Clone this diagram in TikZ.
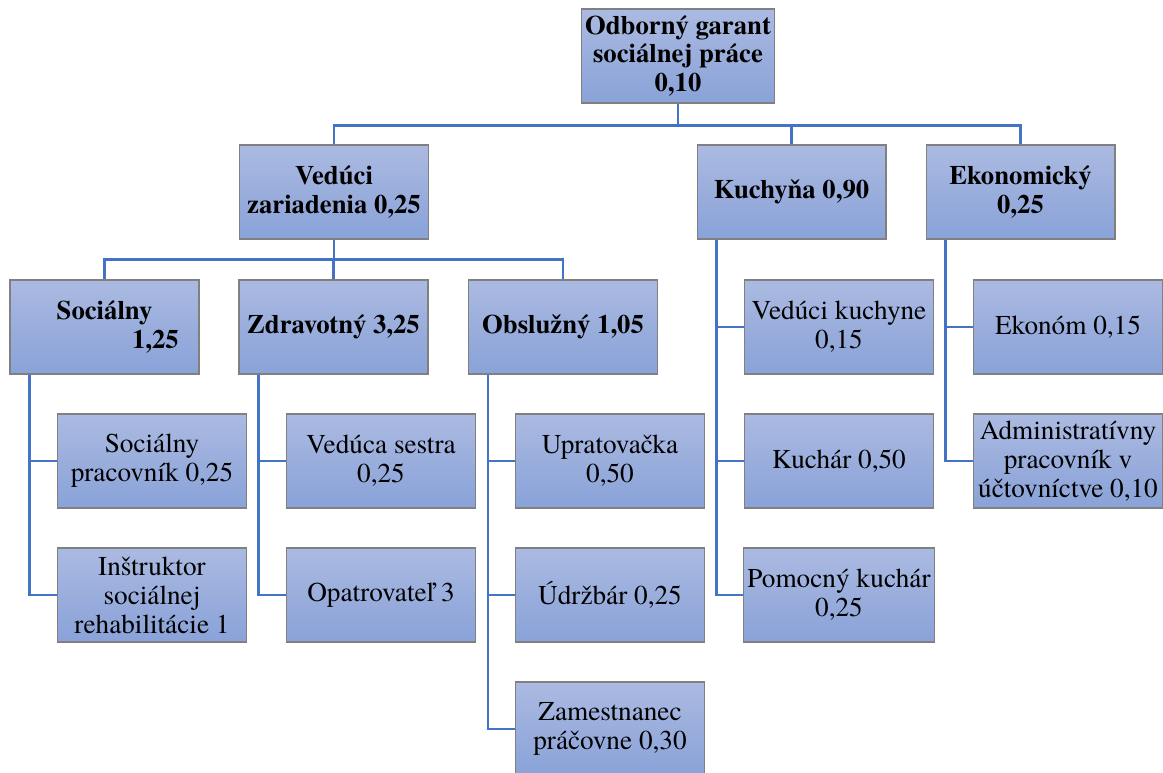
\documentclass[tikz,border=0pt]{standalone}
\usepackage{fontspec}
\setmainfont{texgyretermes}[Extension=.otf, UprightFont=*-regular, BoldFont=*-bold]
\usepackage{tikz}

\definecolor{boxtop}{RGB}{171,186,225}
\definecolor{boxbot}{RGB}{137,162,216}
\definecolor{boxline}{RGB}{128,128,128}
\definecolor{linkblue}{RGB}{68,114,196}

\tikzset{
  unit/.style={draw=boxline, line width=0.6pt, top color=boxtop, bottom color=boxbot,
    minimum width=3.78cm, minimum height=1.88cm, inner sep=2pt, align=center,
    font=\fontsize{15.5}{16.5}\selectfont},
  head/.style={unit, font=\fontsize{15.2}{16}\selectfont\bfseries},
  link/.style={draw=linkblue, line width=1.6pt}
}

\begin{document}
\begin{tikzpicture}[x=0.02cm, y=-0.02cm]
\useasboundingbox (0,0) rectangle (1163,773);

\node[head] (garant) at (678,56) {Odborný garant\\sociálnej práce\\0,10};

\node[head] (veduci) at (334,192) {Vedúci\\zariadenia 0,25};
\node[head] (kuchyna) at (791.5,192) {Kuchyňa 0,90};
\node[head] (ekon) at (1020.5,192) {Ekonomický\\0,25};

\node[head] (socialny) at (104.5,327) {Sociálny\\\hspace*{58pt}1,25};
\node[head] (zdrav) at (333.5,327) {Zdravotný 3,25};
\node[head] (obsl) at (563,327) {Obslužný 1,05};
\node[unit] (vkuch) at (839,327) {Vedúci kuchyne\\0,15};
\node[unit] (ekonom) at (1068,327) {Ekonóm 0,15};

\node[unit] (socpr) at (152,461) {Sociálny\\pracovník 0,25};
\node[unit] (instr) at (152,595) {Inštruktor\\sociálnej\\rehabilitácie 1};
\node[unit] (sestra) at (381,461) {Vedúca sestra\\0,25};
\node[unit] (opatr) at (381,595) {Opatrovateľ 3};
\node[unit] (uprat) at (610,461) {Upratovačka\\0,50};
\node[unit] (udrz) at (610,595) {Údržbár 0,25};
\node[unit] (zam) at (610,729) {Zamestnanec\\práčovne 0,30};
\node[unit] (kuchar) at (839,461) {Kuchár 0,50};
\node[unit] (pomoc) at (839,595) {Pomocný kuchár\\0,25};
\node[unit] (admin) at (1068,461) {Administratívny\\pracovník v\\účtovníctve 0,10};

\draw[link] (garant.south) -- ++(0,22) -| (veduci.north);
\draw[link] (garant.south) -- ++(0,22) -| (kuchyna.north);
\draw[link] (garant.south) -- ++(0,22) -| (ekon.north);

\draw[link] (veduci.south) -- ++(0,20) -| (socialny.north);
\draw[link] (veduci.south) -- ++(0,20) -| (zdrav.north);
\draw[link] (veduci.south) -- ++(0,20) -| (obsl.north);

\draw[link] ([xshift=0.4cm]socialny.south west) |- (socpr.west);
\draw[link] ([xshift=0.4cm]socialny.south west) |- (instr.west);
\draw[link] ([xshift=0.4cm]zdrav.south west) |- (sestra.west);
\draw[link] ([xshift=0.4cm]zdrav.south west) |- (opatr.west);
\draw[link] ([xshift=0.4cm]obsl.south west) |- (uprat.west);
\draw[link] ([xshift=0.4cm]obsl.south west) |- (udrz.west);
\draw[link] ([xshift=0.4cm]obsl.south west) |- (zam.west);
\draw[link] ([xshift=0.4cm]kuchyna.south west) |- (vkuch.west);
\draw[link] ([xshift=0.4cm]kuchyna.south west) |- (kuchar.west);
\draw[link] ([xshift=0.4cm]kuchyna.south west) |- (pomoc.west);
\draw[link] ([xshift=0.4cm]ekon.south west) |- (ekonom.west);
\draw[link] ([xshift=0.4cm]ekon.south west) |- (admin.west);

\end{tikzpicture}
\end{document}
